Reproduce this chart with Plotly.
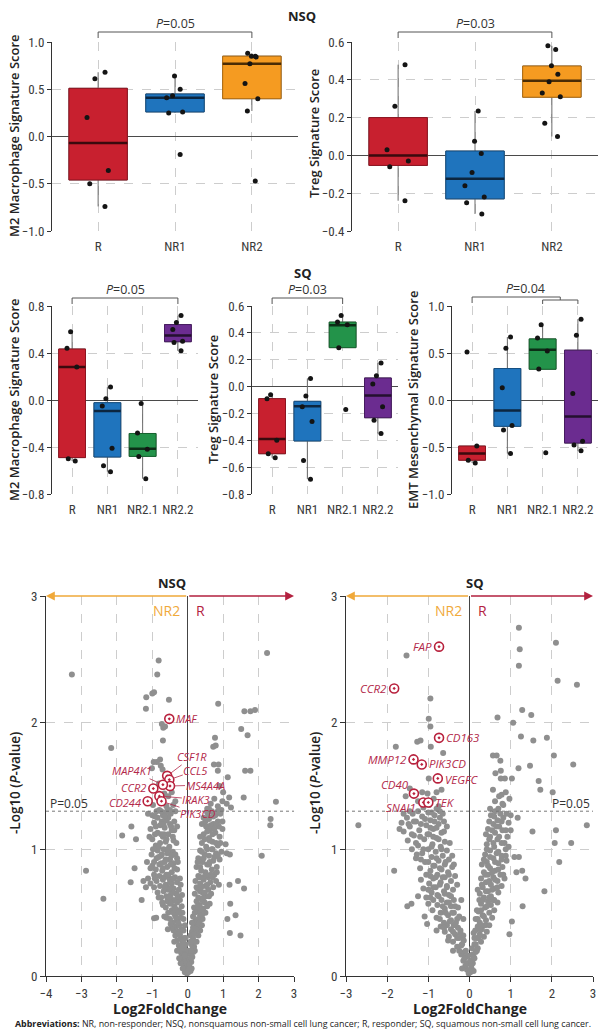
import numpy as np
import plotly.graph_objects as go

W, H = 604, 1036

# ---------------- box-plot data ----------------
cats_nsq = ["R", "NR1", "NR2"]
cats_sq = ["R", "NR1", "NR2.1", "NR2.2"]

# NSQ M2 macrophage
m2_nsq_pts = [[0.68, 0.61, 0.20, -0.36, -0.50, -0.74],
              [0.64, 0.50, 0.43, 0.41, 0.26, 0.25, -0.19],
              [0.88, 0.85, 0.85, 0.84, 0.77, 0.56, 0.40, 0.27, -0.47]]
m2_nsq_q1 = [-0.46, 0.26, 0.40]
m2_nsq_med = [-0.07, 0.41, 0.77]
m2_nsq_q3 = [0.51, 0.45, 0.85]
m2_nsq_lo = [-0.74, 0.25, 0.27]
m2_nsq_hi = [0.68, 0.64, 0.88]

# NSQ Treg
treg_nsq_pts = [[0.48, 0.26, 0.03, -0.03, -0.06, -0.24],
                [0.235, 0.075, 0.01, -0.09, -0.16, -0.22, -0.25, -0.31],
                [0.58, 0.56, 0.475, 0.43, 0.39, 0.33, 0.31, 0.17, 0.10]]
treg_nsq_q1 = [-0.053, -0.23, 0.308]
treg_nsq_med = [0.0, -0.124, 0.395]
treg_nsq_q3 = [0.20, 0.023, 0.473]
treg_nsq_lo = [-0.24, -0.31, 0.10]
treg_nsq_hi = [0.48, 0.235, 0.58]

# SQ M2 macrophage
m2_sq_pts = [[0.58, 0.44, 0.28, -0.50, -0.52],
             [0.11, 0.01, -0.05, -0.41, -0.56, -0.61],
             [-0.03, -0.28, -0.42, -0.48, -0.67],
             [0.72, 0.66, 0.60, 0.50, 0.49, 0.42]]
m2_sq_q1 = [-0.49, -0.485, -0.48, 0.496]
m2_sq_med = [0.28, -0.093, -0.414, 0.55]
m2_sq_q3 = [0.434, -0.023, -0.285, 0.642]
m2_sq_lo = [-0.52, -0.61, -0.67, 0.42]
m2_sq_hi = [0.58, 0.11, -0.03, 0.72]

# SQ Treg
treg_sq_pts = [[-0.06, -0.09, -0.40, -0.50, -0.53],
               [0.06, -0.07, -0.15, -0.26, -0.55, -0.69],
               [0.53, 0.48, 0.46, 0.29, -0.17],
               [0.175, 0.08, 0.02, -0.15, -0.25, -0.35]]
treg_sq_q1 = [-0.50, -0.405, 0.29, -0.232]
treg_sq_med = [-0.39, -0.146, 0.457, -0.067]
treg_sq_q3 = [-0.09, -0.11, 0.48, 0.064]
treg_sq_lo = [-0.53, -0.69, 0.29, -0.35]
treg_sq_hi = [-0.06, 0.06, 0.53, 0.175]

# SQ EMT mesenchymal
emt_sq_pts = [[0.51, -0.49, -0.64, -0.67],
              [0.67, 0.55, 0.13, -0.27, -0.32, -0.57],
              [0.80, 0.66, 0.52, 0.33, -0.56],
              [0.86, 0.69, 0.07, -0.44, -0.48, -0.54]]
emt_sq_q1 = [-0.64, -0.28, 0.327, -0.458]
emt_sq_med = [-0.57, -0.113, 0.535, -0.176]
emt_sq_q3 = [-0.49, 0.335, 0.65, 0.53]
emt_sq_lo = [-0.67, -0.57, 0.327, -0.54]
emt_sq_hi = [-0.49, 0.67, 0.80, 0.86]

# ---------------- volcano data (log2FC, -log10 p) ----------------
nsq_gray = [
    (-3.27, 2.38), (-0.82, 2.49), (-0.86, 2.38), (-1.00, 2.23), (-0.95, 2.24), (-1.17, 2.20), (-1.18, 2.11),
    (-0.53, 2.18), (2.24, 2.55), (0.86, 2.15), (1.60, 2.09), (1.77, 2.09), (1.90, 2.10), (1.51, 1.95),
    (1.69, 1.90), (0.77, 1.88), (0.72, 1.81), (0.79, 1.82), (-2.16, 1.80), (-0.73, 1.99), (-0.69, 1.96),
    (-0.64, 1.97), (-0.70, 1.86), (-0.96, 1.69), (-0.78, 1.71), (-0.87, 1.69), (0.74, 1.67), (0.87, 1.67),
    (-1.01, 1.64), (-0.71, 1.63), (0.85, 1.62), (1.13, 1.57), (1.62, 1.62), (1.77, 1.62), (2.49, 1.375),
    (1.58, 1.41), (1.17, 1.41), (-0.81, 1.52), (-0.76, 1.66),
    (-2.87, 0.83), (-2.38, 0.61), (-1.85, 1.11), (-1.59, 1.18), (-1.46, 1.08), (-1.50, 0.85), (-1.61, 0.74),
    (-1.30, 0.60), (-1.25, 0.75), (-1.18, 0.70), (-0.95, 0.455), (-0.89, 0.46), (2.34, 1.24), (2.33, 1.19),
    (2.09, 0.95), (1.59, 0.69), (1.42, 0.75), (1.18, 0.72), (1.20, 0.57), (1.12, 0.45), (1.35, 0.48),
    (1.19, 0.34), (1.49, 0.32), (1.10, 0.97), (1.19, 0.96), (1.07, 1.04), (0.98, 1.38), (1.10, 1.36),
    (-0.98, 1.35), (-1.12, 1.28), (-0.60, 1.34), (-0.41, 1.35), (-0.50, 1.31), (-0.55, 1.42), (-0.45, 1.45),
    (-0.35, 1.38), (-0.66, 1.44), (-0.62, 1.29), (0.85, 1.34), (0.75, 1.40), (1.0, 1.45), (0.9, 1.50),
    (0.65, 1.36), (0.55, 1.32), (0.95, 1.31), (1.22, 1.33),
    # left arm
    (-0.02, 0.02), (-0.05, 0.05), (-0.08, 0.03), (-0.1, 0.08), (-0.04, 0.1), (-0.12, 0.12), (-0.15, 0.15),
    (-0.07, 0.14), (-0.18, 0.18), (-0.11, 0.19), (-0.2, 0.1), (-0.03, 0.17), (-0.14, 0.06), (-0.22, 0.2),
    (-0.09, 0.22), (-0.25, 0.24), (-0.15, 0.26), (-0.3, 0.28), (-0.2, 0.3), (-0.35, 0.32), (-0.1, 0.3),
    (-0.28, 0.35), (-0.4, 0.36), (-0.18, 0.37), (-0.33, 0.39), (-0.45, 0.38), (-0.24, 0.4), (-0.12, 0.36),
    (-0.38, 0.27), (-0.06, 0.25), (-0.42, 0.42), (-0.3, 0.44), (-0.5, 0.45), (-0.2, 0.46), (-0.36, 0.48),
    (-0.55, 0.5), (-0.45, 0.52), (-0.25, 0.52), (-0.62, 0.54), (-0.38, 0.55), (-0.5, 0.57), (-0.15, 0.5),
    (-0.3, 0.58), (-0.7, 0.56), (-0.58, 0.59), (-0.42, 0.6), (-0.22, 0.6), (-0.66, 0.47), (-0.75, 0.62),
    (-0.6, 0.63), (-0.48, 0.64), (-0.32, 0.65), (-0.85, 0.66), (-0.68, 0.67), (-0.55, 0.68), (-0.4, 0.69),
    (-0.25, 0.68), (-0.95, 0.7), (-0.78, 0.71), (-0.62, 0.72), (-0.45, 0.73), (-0.3, 0.74), (-1.05, 0.73),
    (-0.88, 0.75), (-0.7, 0.76), (-0.52, 0.77), (-0.36, 0.78), (-0.8, 0.79), (-0.6, 0.8), (-0.22, 0.77),
    (-1.12, 0.77), (-0.95, 0.8), (-0.45, 0.82), (-0.72, 0.83), (-0.9, 0.84), (-0.3, 0.84), (-0.58, 0.86),
    (-1.0, 0.87), (-0.8, 0.88), (-0.4, 0.89), (-0.65, 0.9), (-0.5, 0.92), (-0.88, 0.93), (-0.3, 0.93),
    (-0.75, 0.95), (-1.02, 0.96), (-0.58, 0.97), (-0.42, 0.98), (-0.85, 0.99), (-0.68, 1.0), (-0.95, 0.9),
    (-0.35, 0.96), (-0.52, 1.02), (-0.9, 1.03), (-0.78, 1.05), (-0.62, 1.06), (-0.4, 1.07), (-1.0, 1.08),
    (-0.7, 1.1), (-0.55, 1.12), (-0.85, 1.13), (-0.45, 1.15), (-1.05, 1.16), (-0.65, 1.17), (-0.78, 1.19),
    (-0.5, 1.2), (-0.95, 1.21), (-0.6, 1.23), (-0.38, 1.22), (-0.85, 1.25), (-0.7, 1.27), (-0.48, 1.28),
    (-1.0, 1.27), (-0.58, 1.3), (-0.8, 1.31), (-0.35, 1.3), (-0.9, 1.18), (-0.73, 1.22),
    (-0.05, 0.12), (-0.1, 0.16), (-0.16, 0.22), (-0.13, 0.28), (-0.22, 0.33), (-0.27, 0.42), (-0.33, 0.46),
    (-0.4, 0.5), (-0.35, 0.53), (-0.47, 0.58), (-0.52, 0.62), (-0.44, 0.66), (-0.58, 0.7), (-0.5, 0.74),
    (-0.66, 0.78), (-0.55, 0.8), (-0.7, 0.85), (-0.62, 0.92), (-0.48, 0.88), (-0.73, 0.96), (-0.55, 1.0),
    (-0.82, 1.02), (-0.6, 1.08), (-0.75, 1.12), (-0.92, 1.12), (-0.68, 1.2), (-0.55, 1.25), (-0.88, 1.3),
    (-0.42, 1.1), (-0.32, 1.05), (-0.28, 0.9), (-0.2, 0.72), (-0.17, 0.55), (-0.08, 0.4), (-0.26, 0.5),
    (-0.34, 0.6), (-0.42, 0.77), (-0.37, 0.85), (-0.46, 0.95), (-0.38, 1.15), (-0.3, 1.18), (-0.98, 1.0),
    (-1.08, 1.1), (-1.15, 0.9), (-1.05, 0.85), (-0.93, 0.77), (-0.82, 0.62), (-0.72, 0.58), (-0.6, 0.46),
    (-0.48, 0.41), (-0.56, 0.37), (-0.3, 0.2), (-0.24, 0.14), (-0.06, 0.3), (-0.12, 0.45), (-0.28, 0.63),
    (-0.16, 0.64), (-0.65, 0.7), (-0.5, 0.69), (-0.75, 0.89), (-0.82, 0.94), (-0.67, 1.12), (-0.47, 1.18),
    (-0.92, 1.26), (-0.65, 1.26), (-0.75, 1.3),
    # right arm
    (0.02, 0.03), (0.05, 0.07), (0.08, 0.04), (0.1, 0.11), (0.04, 0.13), (0.13, 0.15), (0.07, 0.18),
    (0.16, 0.19), (0.11, 0.06), (0.2, 0.2), (0.03, 0.2), (0.18, 0.23), (0.1, 0.25), (0.25, 0.27),
    (0.15, 0.3), (0.3, 0.32), (0.22, 0.34), (0.12, 0.35), (0.35, 0.36), (0.27, 0.38), (0.18, 0.4),
    (0.4, 0.4), (0.08, 0.32), (0.3, 0.42), (0.22, 0.44), (0.42, 0.45), (0.15, 0.47), (0.35, 0.48),
    (0.5, 0.5), (0.26, 0.51), (0.44, 0.53), (0.18, 0.54), (0.55, 0.55), (0.34, 0.56), (0.48, 0.58),
    (0.25, 0.59), (0.62, 0.57), (0.4, 0.6), (0.3, 0.62), (0.52, 0.63), (0.2, 0.65), (0.66, 0.65),
    (0.42, 0.66), (0.58, 0.68), (0.28, 0.69), (0.72, 0.7), (0.5, 0.71), (0.35, 0.73), (0.64, 0.74),
    (0.22, 0.75), (0.8, 0.75), (0.45, 0.76), (0.58, 0.78), (0.3, 0.79), (0.75, 0.8), (0.88, 0.72),
    (0.5, 0.82), (0.38, 0.83), (0.68, 0.84), (0.25, 0.86), (0.82, 0.86), (0.55, 0.88), (0.42, 0.9),
    (0.72, 0.91), (0.3, 0.93), (0.9, 0.92), (0.6, 0.95), (0.48, 0.96), (0.8, 0.97), (0.35, 0.99),
    (0.68, 1.0), (0.95, 0.98), (0.52, 1.02), (0.85, 1.03), (0.4, 1.05), (0.7, 1.06), (0.6, 1.09),
    (0.9, 1.1), (0.45, 1.12), (0.78, 1.13), (0.62, 1.15), (0.98, 1.16), (0.52, 1.18), (0.72, 1.2),
    (0.85, 1.22), (0.6, 1.24), (0.45, 1.25), (0.78, 1.27), (0.92, 1.28), (0.68, 1.3), (0.55, 1.29),
    (0.04, 0.09), (0.09, 0.14), (0.14, 0.22), (0.2, 0.27), (0.08, 0.27), (0.24, 0.37), (0.15, 0.38),
    (0.3, 0.45), (0.2, 0.5), (0.38, 0.52), (0.28, 0.55), (0.45, 0.62), (0.35, 0.67), (0.25, 0.7),
    (0.55, 0.72), (0.42, 0.78), (0.65, 0.8), (0.35, 0.86), (0.6, 0.88), (0.45, 0.93), (0.75, 0.94),
    (0.55, 1.0), (0.4, 0.98), (0.8, 1.05), (0.62, 1.07), (0.48, 1.08), (0.7, 1.12), (0.55, 1.14),
    (0.88, 1.18), (0.65, 1.19), (0.4, 1.2), (0.8, 1.2), (0.5, 1.22), (0.72, 1.26), (0.85, 1.3),
    (0.6, 1.32), (0.12, 0.42), (0.1, 0.2), (0.17, 0.33), (0.33, 0.42), (0.4, 0.48), (0.48, 0.66),
    (0.6, 0.63), (0.38, 0.7), (0.7, 0.78), (0.52, 0.8), (0.82, 0.82), (0.62, 0.9), (0.85, 0.95),
    (0.7, 1.0), (0.92, 1.05), (0.33, 0.78), (0.28, 0.9), (0.35, 1.1), (0.75, 1.16), (0.98, 1.22),
    (0.58, 1.26),
]
nsq_genes = ["MAF", "CSF1R", "CCL5", "MS4A4A", "MAP4K1", "CCR2", "IRAK3", "PIK3CD", "CD244"]
nsq_gene_fc = [-0.52, -0.58, -0.52, -0.50, -0.70, -0.97, -0.80, -0.74, -1.13]
nsq_gene_p = [2.03, 1.58, 1.55, 1.50, 1.51, 1.48, 1.42, 1.38, 1.38]

sq_gray = [
    (-1.53, 2.53), (-0.95, 2.19), (-0.99, 2.03), (-0.95, 1.97), (-1.27, 1.85), (-1.19, 1.86), (-1.79, 1.81),
    (-0.94, 1.81), (-0.64, 1.76), (-0.99, 1.56), (1.20, 2.75), (1.22, 2.58), (1.20, 2.45), (2.10, 2.63),
    (2.14, 2.33), (2.61, 2.30), (1.28, 2.10), (1.50, 2.06), (0.68, 2.04), (1.06, 2.00), (1.25, 1.89),
    (1.55, 1.86), (1.88, 1.88), (2.05, 1.74), (2.52, 1.67), (1.47, 1.66), (1.19, 1.64), (0.57, 1.74),
    (0.66, 1.74), (0.75, 1.70), (0.76, 1.62), (0.63, 1.60), (0.76, 1.56), (0.86, 1.56), (1.03, 1.56),
    (0.57, 1.47), (1.68, 1.54), (1.72, 1.47), (2.02, 1.45), (0.78, 1.43), (0.88, 1.45), (0.97, 1.40),
    (0.80, 1.36), (-1.55, 1.42), (-1.45, 1.48), (-1.15, 1.45), (-1.02, 1.44), (-0.80, 1.45), (-0.68, 1.47),
    (-0.87, 1.40), (-0.75, 1.34), (-1.25, 1.38),
    (-2.70, 1.19), (-1.83, 0.83), (1.53, 1.14), (2.10, 1.15), (2.07, 1.05), (2.47, 1.05), (2.85, 1.19),
    (2.18, 0.90), (1.82, 0.67), (1.29, 0.55), (1.36, 0.77), (1.28, 0.83), (1.14, 0.82), (1.17, 1.25),
    (1.09, 0.94), (1.20, 0.94), (-1.51, 0.55), (-1.41, 0.57), (-1.25, 0.63), (-1.09, 0.47), (-1.03, 0.41),
    (0.97, 0.33), (1.03, 0.43),
    # left arm
    (-0.02, 0.02), (-0.06, 0.05), (-0.1, 0.08), (-0.04, 0.1), (-0.15, 0.12), (-0.08, 0.15), (-0.2, 0.17),
    (-0.12, 0.19), (-0.25, 0.2), (-0.03, 0.16), (-0.18, 0.06), (-0.3, 0.23), (-0.18, 0.25), (-0.4, 0.27),
    (-0.25, 0.3), (-0.5, 0.31), (-0.35, 0.33), (-0.15, 0.32), (-0.6, 0.35), (-0.45, 0.37), (-0.28, 0.38),
    (-0.7, 0.39), (-0.55, 0.4), (-0.38, 0.4), (-0.22, 0.36), (-0.8, 0.36), (-0.62, 0.42), (-0.45, 0.44),
    (-0.3, 0.45), (-0.8, 0.46), (-0.52, 0.48), (-0.38, 0.5), (-0.7, 0.5), (-0.9, 0.52), (-0.6, 0.53),
    (-0.45, 0.55), (-0.28, 0.54), (-0.78, 0.56), (-1.0, 0.57), (-0.55, 0.58), (-0.68, 0.6), (-0.38, 0.6),
    (-0.88, 0.6), (-1.05, 0.62), (-0.75, 0.63), (-0.5, 0.64), (-0.92, 0.66), (-0.62, 0.67), (-0.4, 0.68),
    (-1.12, 0.69), (-0.82, 0.7), (-0.55, 0.71), (-0.98, 0.73), (-0.7, 0.74), (-0.45, 0.75), (-1.18, 0.76),
    (-0.88, 0.77), (-0.6, 0.78), (-0.35, 0.79), (-1.05, 0.8), (-0.78, 0.8), (-0.52, 0.82), (-0.95, 0.83),
    (-0.68, 0.84), (-1.2, 0.85), (-0.42, 0.86), (-0.85, 0.87), (-0.6, 0.88), (-1.08, 0.9), (-0.75, 0.91),
    (-0.5, 0.92), (-1.3, 0.93), (-0.92, 0.94), (-0.65, 0.95), (-1.15, 0.97), (-0.82, 0.98), (-0.55, 0.99),
    (-1.4, 1.0), (-1.0, 1.0), (-0.7, 1.02), (-1.25, 1.03), (-0.9, 1.04), (-0.6, 1.06), (-1.5, 1.07),
    (-1.1, 1.08), (-0.8, 1.09), (-1.35, 1.11), (-0.98, 1.12), (-0.68, 1.13), (-1.6, 1.14), (-1.22, 1.15),
    (-0.88, 1.16), (-1.45, 1.18), (-1.05, 1.19), (-0.75, 1.2), (-1.65, 1.21), (-1.3, 1.22), (-0.95, 1.23),
    (-0.62, 1.22), (-1.52, 1.25), (-1.15, 1.26), (-0.85, 1.27), (-1.38, 1.28), (-1.0, 1.29), (-0.72, 1.3),
    (-0.05, 0.1), (-0.12, 0.14), (-0.09, 0.2), (-0.2, 0.24), (-0.14, 0.28), (-0.3, 0.3), (-0.22, 0.34),
    (-0.4, 0.35), (-0.33, 0.42), (-0.48, 0.43), (-0.25, 0.47), (-0.42, 0.5), (-0.58, 0.5), (-0.35, 0.55),
    (-0.5, 0.58), (-0.65, 0.55), (-0.45, 0.63), (-0.6, 0.65), (-0.78, 0.64), (-0.55, 0.7), (-0.72, 0.72),
    (-0.88, 0.7), (-0.65, 0.78), (-0.82, 0.78), (-0.5, 0.8), (-0.95, 0.79), (-0.72, 0.85), (-0.88, 0.87),
    (-0.58, 0.9), (-1.0, 0.9), (-0.8, 0.93), (-0.68, 1.0), (-0.92, 1.02), (-1.12, 1.0), (-0.75, 1.08),
    (-0.88, 1.1), (-1.02, 1.12), (-0.62, 1.14), (-0.8, 1.17), (-0.95, 1.17), (-1.18, 1.2), (-0.85, 1.22),
    (-1.08, 1.24), (-0.72, 1.25), (-0.92, 1.29), (-1.25, 1.3), (-0.8, 1.32), (-1.12, 1.33), (-0.98, 1.35),
    (-0.65, 1.28), (-0.55, 1.18), (-0.48, 1.05), (-0.42, 0.95), (-0.38, 0.88), (-0.3, 0.72), (-0.2, 0.6),
    (-0.15, 0.45), (-1.2, 1.1), (-1.3, 1.05), (-1.4, 1.12), (-1.48, 1.2), (-1.6, 1.28), (-1.35, 1.22),
    (-1.45, 1.3), (-1.7, 1.16), (-1.28, 0.96), (-1.18, 0.92), (-1.0, 0.68), (-0.95, 0.62), (-0.72, 0.45),
    (-0.62, 0.38), (-0.52, 0.28), (-0.4, 0.2),
    # right arm
    (0.02, 0.03), (0.05, 0.06), (0.08, 0.1), (0.03, 0.12), (0.12, 0.14), (0.07, 0.17), (0.15, 0.19),
    (0.1, 0.04), (0.18, 0.2), (0.2, 0.22), (0.12, 0.25), (0.28, 0.27), (0.18, 0.3), (0.35, 0.31),
    (0.25, 0.33), (0.1, 0.34), (0.42, 0.35), (0.3, 0.37), (0.2, 0.39), (0.48, 0.4), (0.38, 0.4),
    (0.25, 0.42), (0.4, 0.44), (0.15, 0.45), (0.55, 0.46), (0.32, 0.48), (0.48, 0.5), (0.22, 0.51),
    (0.6, 0.52), (0.38, 0.54), (0.52, 0.56), (0.28, 0.57), (0.68, 0.58), (0.45, 0.59), (0.6, 0.6),
    (0.35, 0.62), (0.52, 0.63), (0.25, 0.65), (0.7, 0.66), (0.45, 0.67), (0.6, 0.69), (0.32, 0.7),
    (0.78, 0.71), (0.52, 0.72), (0.4, 0.74), (0.68, 0.75), (0.28, 0.77), (0.85, 0.77), (0.58, 0.78),
    (0.45, 0.8), (0.75, 0.8), (0.35, 0.82), (0.62, 0.83), (0.5, 0.85), (0.8, 0.86), (0.3, 0.88),
    (0.7, 0.89), (0.42, 0.9), (0.9, 0.91), (0.58, 0.93), (0.78, 0.95), (0.38, 0.96), (0.66, 0.97),
    (0.5, 0.99), (0.88, 1.0), (0.6, 1.02), (0.42, 1.04), (0.78, 1.05), (0.68, 1.08), (0.5, 1.1),
    (0.92, 1.1), (0.62, 1.13), (0.8, 1.15), (0.45, 1.16), (0.72, 1.18), (0.58, 1.2), (0.95, 1.21),
    (0.68, 1.23), (0.82, 1.25), (0.52, 1.27), (0.75, 1.28), (0.62, 1.3), (1.0, 1.27),
    (0.04, 0.08), (0.1, 0.15), (0.06, 0.22), (0.15, 0.25), (0.22, 0.3), (0.14, 0.36), (0.28, 0.4),
    (0.2, 0.45), (0.35, 0.47), (0.28, 0.52), (0.42, 0.55), (0.32, 0.6), (0.48, 0.62), (0.4, 0.67),
    (0.55, 0.68), (0.3, 0.72), (0.48, 0.75), (0.62, 0.76), (0.38, 0.8), (0.55, 0.82), (0.7, 0.84),
    (0.45, 0.87), (0.62, 0.9), (0.78, 0.92), (0.5, 0.94), (0.7, 0.98), (0.42, 1.0), (0.58, 1.05),
    (0.85, 1.05), (0.48, 1.08), (0.72, 1.1), (0.55, 1.15), (0.88, 1.15), (0.65, 1.18), (0.48, 1.22),
    (0.78, 1.22), (0.6, 1.26), (0.9, 1.28), (0.7, 1.32), (0.5, 1.32), (0.82, 1.35), (0.62, 1.38),
    (0.72, 1.42), (0.12, 0.3), (0.25, 0.37), (0.18, 0.52), (0.24, 0.6), (0.58, 0.6), (0.68, 0.7),
    (0.2, 0.68), (0.82, 0.8), (0.88, 0.95), (0.95, 1.02), (1.0, 1.15), (0.4, 1.12), (0.35, 0.92),
]
sq_genes = ["FAP", "CCR2", "CD163", "MMP12", "PIK3CD", "VEGFC", "CD40", "SNAI1", "TEK"]
sq_gene_fc = [-0.74, -1.83, -0.74, -1.36, -1.16, -0.77, -1.35, -1.12, -1.00]
sq_gene_p = [2.60, 2.27, 1.88, 1.71, 1.67, 1.56, 1.44, 1.37, 1.37]

p_threshold = 0.05

# ---------------- styling ----------------
FILL = {"R": "#c8202f", "NR1": "#1f74bd", "NR2": "#f59b21", "NR2.1": "#23934a", "NR2.2": "#6b2c90"}
EDGE = {"R": "#8d1420", "NR1": "#154f82", "NR2": "#b06d12", "NR2.1": "#17642f", "NR2.2": "#461b60"}
MED = {"R": "#3a0a0e", "NR1": "#0c2640", "NR2": "#4a2c05", "NR2.1": "#0b2e16", "NR2.2": "#24102f"}
LABEL_RED = "#b3294a"
FONT = "Open Sans, Roboto, sans-serif"
NARROW = "Liberation Sans Narrow, Roboto Condensed, Roboto, sans-serif"
GRID = "#cdcdcd"


def fx(p):
    return p / W


def fy(p):
    return 1 - p / H


fig = go.Figure()


def add_box_panel(n, cats, pts, q1, med, q3, lo, hi, width=0.76):
    xa, ya = ("x" if n == 1 else f"x{n}"), ("y" if n == 1 else f"y{n}")
    for i, c in enumerate(cats):
        common = dict(x=[c], xaxis=xa, yaxis=ya, width=width, whiskerwidth=0,
                      showlegend=False, hoverinfo="skip")
        fig.add_trace(go.Box(q1=[q1[i]], median=[med[i]], q3=[q3[i]],
                             lowerfence=[lo[i]], upperfence=[hi[i]],
                             fillcolor=FILL[c], line=dict(color="#6a6a6a", width=1), **common))
        fig.add_trace(go.Box(q1=[q1[i]], median=[med[i]], q3=[q3[i]],
                             lowerfence=[q1[i]], upperfence=[q3[i]],
                             fillcolor=FILL[c], line=dict(color=EDGE[c], width=1), **common))
        fig.add_trace(go.Box(q1=[med[i]], median=[med[i]], q3=[med[i]],
                             lowerfence=[med[i]], upperfence=[med[i]],
                             fillcolor="rgba(0,0,0,0)", line=dict(color=MED[c], width=2.5), **common))
        fig.add_trace(go.Box(x=[c] * len(pts[i]), y=pts[i], xaxis=xa, yaxis=ya, width=width,
                             boxpoints="all", jitter=0.45, pointpos=0,
                             fillcolor="rgba(0,0,0,0)", line=dict(color="rgba(0,0,0,0)", width=0),
                             marker=dict(color="#141414", size=5), showlegend=False, hoverinfo="skip"))


add_box_panel(1, cats_nsq, m2_nsq_pts, m2_nsq_q1, m2_nsq_med, m2_nsq_q3, m2_nsq_lo, m2_nsq_hi)
add_box_panel(2, cats_nsq, treg_nsq_pts, treg_nsq_q1, treg_nsq_med, treg_nsq_q3, treg_nsq_lo, treg_nsq_hi)
add_box_panel(3, cats_sq, m2_sq_pts, m2_sq_q1, m2_sq_med, m2_sq_q3, m2_sq_lo, m2_sq_hi)
add_box_panel(4, cats_sq, treg_sq_pts, treg_sq_q1, treg_sq_med, treg_sq_q3, treg_sq_lo, treg_sq_hi)
add_box_panel(5, cats_sq, emt_sq_pts, emt_sq_q1, emt_sq_med, emt_sq_q3, emt_sq_lo, emt_sq_hi)

for n, gray, fc, pv in [(6, nsq_gray, nsq_gene_fc, nsq_gene_p), (7, sq_gray, sq_gene_fc, sq_gene_p)]:
    gx = [p[0] for p in gray]
    gy = [p[1] for p in gray]
    fig.add_trace(go.Scatter(x=gx, y=gy, mode="markers", xaxis=f"x{n}", yaxis=f"y{n}",
                             marker=dict(color="#8f8f8f", size=6), showlegend=False, hoverinfo="skip"))
    fig.add_trace(go.Scatter(x=fc, y=pv, mode="markers", xaxis=f"x{n}", yaxis=f"y{n}",
                             marker=dict(symbol="circle-dot", color="white", size=9,
                                         line=dict(color="#b8213d", width=1.6)),
                             showlegend=False, hoverinfo="skip"))

# ---------------- axes ----------------
tickfont = dict(family=NARROW, size=13, color="#3a3a3a")
box_panels = {
    1: dict(x=(52, 298), y=(42, 231), xr=[-0.6, 2.6], yr=[-1, 1], tv=[-1, -0.5, 0, 0.5, 1]),
    2: dict(x=(352, 598), y=(42, 231), xr=[-0.6, 2.6], yr=[-0.4, 0.6], tv=[-0.4, -0.2, 0, 0.2, 0.4, 0.6]),
    3: dict(x=(52, 198), y=(306, 494), xr=[-0.57, 3.57], yr=[-0.8, 0.8], tv=[-0.8, -0.4, 0, 0.4, 0.8]),
    4: dict(x=(252, 398), y=(306, 494), xr=[-0.57, 3.57], yr=[-0.8, 0.6],
            tv=[-0.8, -0.6, -0.4, -0.2, 0, 0.2, 0.4, 0.6]),
    5: dict(x=(452, 598), y=(306, 494), xr=[-0.57, 3.57], yr=[-1, 1], tv=[-1, -0.5, 0, 0.5, 1]),
}
layout = {}
for n, b in box_panels.items():
    xk = "xaxis" if n == 1 else f"xaxis{n}"
    yk = "yaxis" if n == 1 else f"yaxis{n}"
    ya = "y" if n == 1 else f"y{n}"
    xa = "x" if n == 1 else f"x{n}"
    layout[xk] = dict(domain=[fx(b["x"][0]), fx(b["x"][1])], anchor=ya, type="category",
                      range=b["xr"], showgrid=True, gridcolor=GRID, griddash="dash", gridwidth=1,
                      showline=False, zeroline=False, ticks="", tickfont=tickfont, automargin=False,
                      ticklabelstandoff=6)
    layout[yk] = dict(domain=[fy(b["y"][1]), fy(b["y"][0])], anchor=xa, range=b["yr"],
                      tickvals=b["tv"], tickformat=".1f", showgrid=True, gridcolor=GRID, griddash="dash",
                      showline=True, linecolor="#333", linewidth=1, ticks="outside", ticklen=4,
                      tickcolor="#333", zeroline=True, zerolinecolor="#4a4a4a", zerolinewidth=1,
                      tickfont=tickfont, automargin=False)

vol_panels = {6: dict(x=(46, 294), xr=[-4, 3]), 7: dict(x=(346, 593), xr=[-3, 3])}
for n, v in vol_panels.items():
    layout[f"xaxis{n}"] = dict(domain=[fx(v["x"][0]), fx(v["x"][1])], anchor=f"y{n}", range=v["xr"],
                               dtick=1, showgrid=True, gridcolor=GRID, griddash="dash",
                               showline=True, linecolor="#333", ticks="outside", ticklen=5,
                               tickcolor="#333", zeroline=True, zerolinecolor="#444", zerolinewidth=1,
                               tickfont=tickfont, automargin=False)
    layout[f"yaxis{n}"] = dict(domain=[fy(976), fy(596)], anchor=f"x{n}", range=[0, 3], dtick=1,
                               showgrid=True, gridcolor=GRID, griddash="dash", showline=True,
                               linecolor="#333", ticks="outside", ticklen=5, tickcolor="#333",
                               zeroline=False, tickfont=tickfont, automargin=False)

ann = []
shapes = []


def ytitle(text, px, py, size=13):
    ann.append(dict(text=text, x=fx(px), y=fy(py), xref="paper", yref="paper", showarrow=False,
                    textangle=-90, font=dict(family=FONT, size=size, color="#222", weight=600),
                    xanchor="center", yanchor="middle"))


def ptext(text, px, py, size=13, weight=700, color="#222", family=FONT):
    ann.append(dict(text=text, x=fx(px), y=fy(py), xref="paper", yref="paper", showarrow=False,
                    font=dict(family=family, size=size, color=color, weight=weight),
                    xanchor="center", yanchor="middle"))


ptext("NSQ", 302, 16)
ptext("SQ", 303, 273)
ptext("NSQ", 172, 583)
ptext("SQ", 475, 583)
ytitle("M2 Macrophage Signature Score", 14, 136)
ytitle("Treg Signature Score", 314, 134)
ytitle("M2 Macrophage Signature Score", 14, 400)
ytitle("Treg Signature Score", 213, 400)
ytitle("EMT Mesenchymal Signature Score", 413, 400)
ytitle("-Log10 (<i>P</i>-value)", 15, 783, 13.5)
ytitle("-Log10 (<i>P</i>-value)", 315, 783, 13.5)
ptext("Log2FoldChange", 170, 1008, 14)
ptext("Log2FoldChange", 470, 1008, 14)
ptext("<b>Abbreviations:</b> NR, non-responder; NSQ, nonsquamous non-small cell lung cancer; "
      "R, responder; SQ, squamous non-small cell lung cancer.", 303, 1023, 8.9, 400, "#222")


def bracket(n, x0, x1, ytop, ybot_l, ybot_r):
    xa = "x" if n == 1 else f"x{n}"
    for (a, b, c, d) in [(x0, fy(ytop), x0, fy(ybot_l)), (x1, fy(ytop), x1, fy(ybot_r)),
                         (x0, fy(ytop), x1, fy(ytop))]:
        shapes.append(dict(type="line", xref=xa, yref="paper", x0=a, y0=b, x1=c, y1=d,
                           line=dict(color="#555", width=1)))


def pval(n, xc, py, text):
    xa = "x" if n == 1 else f"x{n}"
    ann.append(dict(text=text, x=xc, y=fy(py), xref=xa, yref="paper", showarrow=False,
                    font=dict(family=FONT, size=12.5, color="#333"), xanchor="center", yanchor="middle"))


bracket(1, 0, 2, 32, 38, 38)
pval(1, 1, 24, "<i>P</i>=0.05")
bracket(2, 0, 2, 32, 38, 38)
pval(2, 1, 24, "<i>P</i>=0.03")
bracket(3, 0, 3, 298, 304, 304)
pval(3, 1.5, 289, "<i>P</i>=0.05")
bracket(4, 0, 2, 298, 304, 304)
pval(4, 1, 289, "<i>P</i>=0.03")
bracket(5, 0, 2.5, 297, 303, 300)
bracket(5, 2, 3, 300, 304, 304)
pval(5, 1.5, 288, "<i>P</i>=0.04")

thr = -np.log10(p_threshold)
for n, xmin, xmax in [(6, -4, 3), (7, -3, 3)]:
    shapes.append(dict(type="line", xref=f"x{n} domain", yref=f"y{n}", x0=0, x1=1, y0=thr, y1=thr,
                       line=dict(color="#777", width=1, dash="dot")))
    ann.append(dict(x=xmin, y=3, ax=0, ay=3, xref=f"x{n}", yref=f"y{n}", axref=f"x{n}", ayref=f"y{n}",
                    text="", showarrow=True, arrowhead=2, arrowsize=1.1, arrowwidth=1.6, arrowcolor="#f0a93a"))
    ann.append(dict(x=xmax, y=3, ax=0, ay=3, xref=f"x{n}", yref=f"y{n}", axref=f"x{n}", ayref=f"y{n}",
                    text="", showarrow=True, arrowhead=2, arrowsize=1.1, arrowwidth=1.6, arrowcolor="#b3213f"))
    ann.append(dict(x=0, y=3, xref=f"x{n}", yref=f"y{n}", text="NR2", showarrow=False, xanchor="right",
                    xshift=-6, yshift=-14, font=dict(family=FONT, size=14, color="#f0a93a")))
    ann.append(dict(x=0, y=3, xref=f"x{n}", yref=f"y{n}", text="R", showarrow=False, xanchor="left",
                    xshift=6, yshift=-14, font=dict(family=FONT, size=14, color="#b3213f")))

ann.append(dict(x=-4, y=thr, xref="x6", yref="y6", text="P=0.05", showarrow=False, xanchor="left",
                xshift=2, yshift=8, font=dict(family=FONT, size=12, color="#333")))
ann.append(dict(x=3, y=thr, xref="x7", yref="y7", text="P=0.05", showarrow=False, xanchor="right",
                xshift=-1, yshift=8, font=dict(family=FONT, size=12, color="#333")))

# placement: (mode, dx, dy) ; "L" text left of point, "R" right of point, "A" leader line with offset
nsq_place = {"MAF": ("R", 0, 0), "CSF1R": ("A", 25, -19), "CCL5": ("A", 26, -9), "MS4A4A": ("A", 35, -1),
             "MAP4K1": ("A", -31, -14), "CCR2": ("L", 0, -1), "IRAK3": ("A", 37, 3),
             "PIK3CD": ("A", 36, 12), "CD244": ("L", 0, 1)}
sq_place = {"FAP": ("L", 0, 0), "CCR2": ("L", 0, 0), "CD163": ("R", 0, 0), "MMP12": ("L", 0, 0),
            "PIK3CD": ("R", 0, -1), "VEGFC": ("R", 0, 1), "CD40": ("A", -19, -9),
            "SNAI1": ("L", 0, 5), "TEK": ("R", 0, 0)}
for n, genes, fc, pv, place, fs in [(6, nsq_genes, nsq_gene_fc, nsq_gene_p, nsq_place, 11),
                                    (7, sq_genes, sq_gene_fc, sq_gene_p, sq_place, 11.5)]:
    for g, x, y in zip(genes, fc, pv):
        mode, dx, dy = place[g]
        base = dict(x=x, y=y, xref=f"x{n}", yref=f"y{n}", text=g, borderpad=0,
                    font=dict(family=FONT, size=fs, color=LABEL_RED, style="italic"))
        if mode == "A":
            base.update(showarrow=True, ax=dx, ay=dy, arrowhead=0, arrowwidth=0.8,
                        arrowcolor=LABEL_RED, standoff=4)
        elif mode == "R":
            base.update(showarrow=False, xanchor="left", xshift=6, yshift=-dy)
        else:
            base.update(showarrow=False, xanchor="right", xshift=-6, yshift=-dy)
        ann.append(base)

fig.update_layout(template="none", width=W, height=H, margin=dict(l=0, r=0, t=0, b=0, pad=0),
                  plot_bgcolor="white", paper_bgcolor="white", boxmode="overlay", showlegend=False,
                  annotations=ann, shapes=shapes, font=dict(family=FONT, color="#333"), **layout)
fig.write_html("out.html", config={"displayModeBar": False},
               post_script="document.body.style.margin='0px';")
